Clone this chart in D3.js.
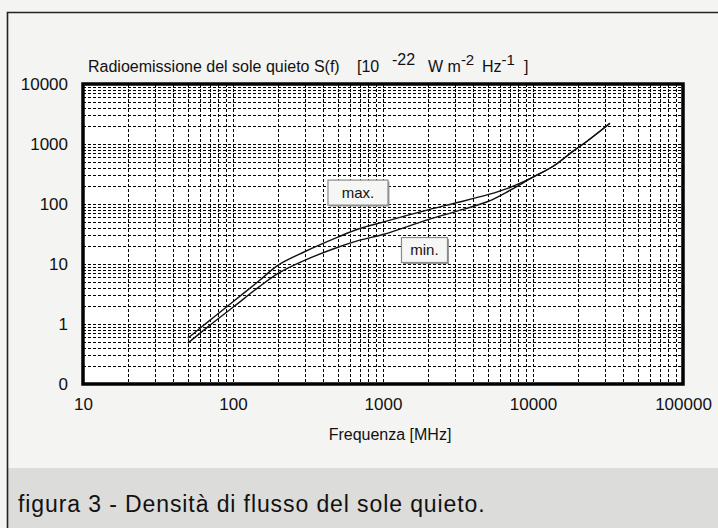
<!DOCTYPE html>
<html>
<head>
<meta charset="utf-8">
<script src="https://cdn.jsdelivr.net/npm/d3@7/dist/d3.min.js"></script>
<style>
  html, body { margin: 0; padding: 0; background: #f4f4f2; }
  svg { display: block; }
  text { font-family: "Liberation Sans", Arial, sans-serif; fill: #111; }
</style>
</head>
<body>
<svg id="chart" width="718" height="528"></svg>
<script>
// Quiet-sun radio flux density, S(f) in 10^-22 W m^-2 Hz^-1
const freqMHz = [50, 70, 100, 150, 200, 300, 500, 700, 1000, 2000, 3000, 5000, 7000, 10000, 13700, 18500, 22800, 32600];
const fluxMax = [0.58, 1.15, 2.35, 5.3, 9.6, 16, 28, 39, 50, 80, 103, 143, 188, 280, 430, 760, 1100, 2215];
const fluxMin = [0.48, 0.95, 1.9, 4.2, 7.0, 11.5, 19, 25, 31, 55, 74, 110, 168, 280, 430, 760, 1100, 2215];

const xTickValues = [10, 100, 1000, 10000, 100000];
const xTickLabels = ["10", "100", "1000", "10000", "100000"];
const yTickValues = [0.1, 1, 10, 100, 1000, 10000];
const yTickLabels = ["0", "1", "10", "100", "1000", "10000"];

// curve tags: name, anchor frequency, anchor level
const tagNames = ["max.", "min."];
const tagFreq = [681, 1890];
const tagLevel = [155, 17.1];

const svg = d3.select("#chart");
const W = 718, H = 528;
const plot = { left: 83, top: 84, right: 683, bottom: 384 };

// page frame and caption band
svg.append("rect").attr("x", 0).attr("y", 0).attr("width", W).attr("height", H).attr("fill", "#f4f4f2");
svg.append("rect").attr("x", 7).attr("y", 468).attr("width", W - 7).attr("height", H - 468).attr("fill", "#dcdcda");
svg.append("path")
  .attr("d", `M7.5,${H} V12.5 H${W}`)
  .attr("fill", "none").attr("stroke", "#222").attr("stroke-width", 1.6);

const x = d3.scaleLog().domain([10, 100000]).range([plot.left, plot.right]);
const y = d3.scaleLog().domain([0.1, 10000]).range([plot.bottom, plot.top]);

// plot background
svg.append("rect")
  .attr("x", plot.left).attr("y", plot.top)
  .attr("width", plot.right - plot.left).attr("height", plot.bottom - plot.top)
  .attr("fill", "#ffffff");

// dashed log grid
const grid = svg.append("g").attr("stroke", "#000").attr("stroke-width", 1)
  .attr("stroke-dasharray", "3,2");
x.ticks().filter(v => v > 10 && v < 100000).forEach(v => {
  const px = Math.round(x(v)) + 0.5;
  grid.append("line").attr("x1", px).attr("x2", px).attr("y1", plot.top).attr("y2", plot.bottom);
});
y.ticks().filter(v => v > 0.1 && v < 10000).forEach(v => {
  const py = Math.round(y(v)) + 0.5;
  grid.append("line").attr("x1", plot.left).attr("x2", plot.right).attr("y1", py).attr("y2", py);
});

// flux curves
const line = d3.line().x(d => x(d[0])).y(d => y(d[1])).curve(d3.curveCatmullRom.alpha(0.5));
[fluxMax, fluxMin].forEach(series => {
  svg.append("path")
    .datum(freqMHz.map((f, i) => [f, series[i]]))
    .attr("d", line)
    .attr("fill", "none").attr("stroke", "#111").attr("stroke-width", 1.4);
});

// plot frame
svg.append("rect")
  .attr("x", plot.left).attr("y", plot.top)
  .attr("width", plot.right - plot.left).attr("height", plot.bottom - plot.top)
  .attr("fill", "none").attr("stroke", "#000").attr("stroke-width", 3.5);

// axes
const xAxis = d3.axisBottom(x).tickValues(xTickValues)
  .tickFormat((d, i) => xTickLabels[i]).tickSize(0).tickPadding(14);
const gx = svg.append("g").attr("transform", `translate(0,${plot.bottom})`).call(xAxis);
gx.select(".domain").remove();
gx.selectAll("text").attr("font-size", 17).attr("font-family", "Liberation Sans, Arial, sans-serif").attr("fill", "#111");

const yAxis = d3.axisLeft(y).tickValues(yTickValues)
  .tickFormat((d, i) => yTickLabels[i]).tickSize(0).tickPadding(15);
const gy = svg.append("g").attr("transform", `translate(${plot.left},0)`).call(yAxis);
gy.select(".domain").remove();
gy.selectAll("text").attr("font-size", 17).attr("font-family", "Liberation Sans, Arial, sans-serif").attr("fill", "#111");

// title with superscripts
const title = svg.append("text").attr("y", 72).attr("font-size", 16).style("white-space", "pre");
title.append("tspan").attr("x", 88).text("Radioemissione del sole quieto S(f)");
title.append("tspan").attr("x", 357).text("[10");
title.append("tspan").attr("x", 392).attr("dy", -7).text("-22");
title.append("tspan").attr("x", 428).attr("dy", 7).text("W m");
title.append("tspan").attr("dy", -7).attr("font-size", 15).text("-2");
title.append("tspan").attr("x", 482).attr("dy", 7).text("Hz");
title.append("tspan").attr("dy", -7).attr("font-size", 15).text("-1");
title.append("tspan").attr("x", 524).attr("dy", 7).text("]");

// x-axis title
svg.append("text").attr("x", 390).attr("y", 440).attr("text-anchor", "middle")
  .attr("font-size", 16).text("Frequenza [MHz]");

// curve tags
tagNames.forEach((name, i) => {
  const cx = x(tagFreq[i]), cy = y(tagLevel[i]);
  const w = name === "max." ? 60 : 46, h = 25;
  const g = svg.append("g");
  g.append("rect").attr("x", cx - w / 2 + 1.5).attr("y", cy - h / 2 + 1.5).attr("width", w).attr("height", h)
    .attr("fill", "#9a9a9a");
  g.append("rect").attr("x", cx - w / 2).attr("y", cy - h / 2).attr("width", w).attr("height", h)
    .attr("fill", "#f6f6f4").attr("stroke", "#8a8a8a").attr("stroke-width", 1.2);
  g.append("text").attr("x", cx).attr("y", cy + 5).attr("text-anchor", "middle")
    .attr("font-size", 15).text(name);
});

// caption
svg.append("text").attr("x", 18).attr("y", 512)
  .attr("font-family", "Lato, 'Open Sans', sans-serif").attr("font-size", 23)
  .attr("letter-spacing", 0.9).attr("fill", "#1a1a1a")
  .text("figura 3 - Densità di flusso del sole quieto.");
</script>
</body>
</html>
